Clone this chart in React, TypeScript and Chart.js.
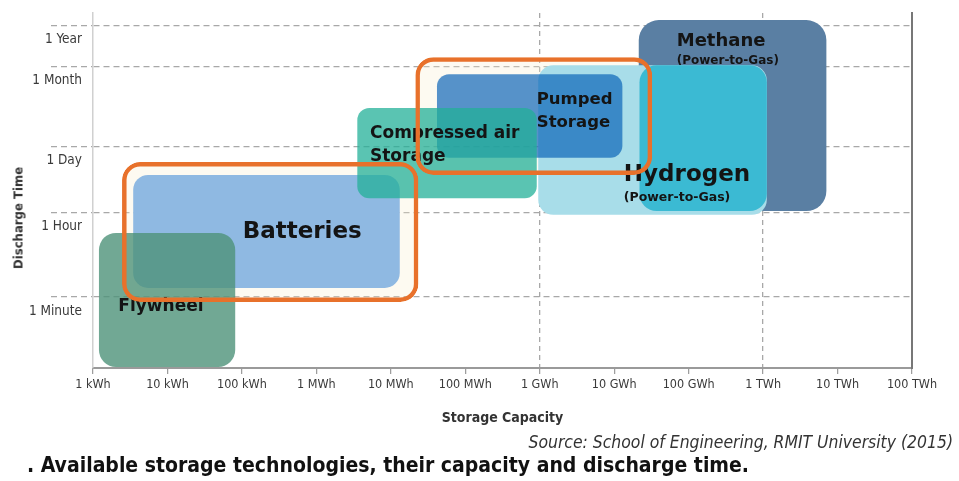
import React, { useEffect, useRef } from 'react';
import { Chart, registerables, DatasetController } from 'chart.js';

Chart.register(...registerables);

// ---------- DATA ----------
// x axis: storage capacity, as log10 of kWh (0 = 1 kWh ... 11 = 100 TWh)
const xTickLabels = ['1 kWh', '10 kWh', '100 kWh', '1 MWh', '10 MWh', '100 MWh', '1 GWh', '10 GWh', '100 GWh', '1 TWh', '10 TWh', '100 TWh'];
const xGridValues = [6, 9];
// y axis: discharge time, on the chart's (log-like) time scale
const yTickLabels = ['1 Minute', '1 Hour', '1 Day', '1 Month', '1 Year'];
const yTickValues = [1.78, 3.56, 4.94, 6.64, 7.5];

// technologies, listed bottom layer first
const techNames = ['Methane', 'Hydrogen', 'Hydrogen (core)', 'Pumped Storage', 'Batteries', 'Compressed air Storage', 'Flywheel'];
const capLow = [7.33, 5.98, 7.34, 4.62, 0.54, 3.55, 0.08];
const capHigh = [9.85, 9.05, 9.05, 7.11, 4.12, 5.96, 1.91];
const timeLow = [3.59, 3.51, 3.59, 4.71, 1.97, 3.86, 0.306];
const timeHigh = [7.61, 6.66, 6.66, 6.47, 4.35, 5.76, 3.13];

// highlighted (orange) groups
const highlightNames = ['Batteries', 'Pumped Storage'];
const highlightCapLow = [0.39, 4.33];
const highlightCapHigh = [4.37, 7.51];
const highlightTimeLow = [1.675, 4.35];
const highlightTimeHigh = [4.62, 6.83];

// ---------- STYLE ----------
const techColors = ['#5a7fa3', '#a8dde9', '#3bbad3', 'rgba(4,95,182,0.67)', '#8fb9e2', 'rgba(35,176,152,0.75)', 'rgba(78,146,121,0.8)'];
const techRadii = [20, 15, 17, 12, 15, 12, 17];
const ORANGE = '#e8712b';
const CREAM = 'rgba(248,236,205,0.28)';
const NARROW = '"Liberation Sans Narrow", "DejaVu Sans Condensed", "Roboto Condensed", sans-serif';
const HEAVY = '"DejaVu Sans", "Liberation Sans", sans-serif';

// label anchors (in axis units) for each technology
const techLabels: Record<string, { text: string; x: number; y: number; size: number; align?: string }[]> = {
  'Methane': [
    { text: 'Methane', x: 7.84, y: 7.17, size: 18 },
    { text: '(Power-to-Gas)', x: 7.84, y: 6.75, size: 12 },
  ],
  'Hydrogen (core)': [
    { text: 'Hydrogen', x: 7.13, y: 4.35, size: 23 },
    { text: '(Power-to-Gas)', x: 7.13, y: 3.86, size: 12.5 },
  ],
  'Pumped Storage': [
    { text: 'Pumped', x: 5.96, y: 5.93, size: 16.5 },
    { text: 'Storage', x: 5.96, y: 5.44, size: 16.5 },
  ],
  'Batteries': [{ text: 'Batteries', x: 2.81, y: 3.15, size: 23, align: 'center' }],
  'Compressed air Storage': [
    { text: 'Compressed air', x: 3.72, y: 5.23, size: 17 },
    { text: 'Storage', x: 3.72, y: 4.73, size: 17 },
  ],
  'Flywheel': [{ text: 'Flywheel', x: 0.34, y: 1.57, size: 17 }],
};

// ---------- rounded box controller (uses Chart.js BarElement) ----------
class RoundBoxController extends (DatasetController as any) {
  static id = 'roundBox';
  static defaults = { datasetElementType: false, dataElementType: 'bar' };
  static overrides = {};

  update(mode: any) {
    const meta = this._cachedMeta;
    this.updateElements(meta.data, 0, meta.data.length, mode);
  }

  updateElements(elements: any[], start: number, count: number, mode: any) {
    const meta = this._cachedMeta;
    const xScale = meta.xScale;
    const yScale = meta.yScale;
    const raw = this.getDataset().data;
    for (let i = start; i < start + count; i++) {
      const d = raw[i];
      const left = xScale.getPixelForValue(d.x0);
      const right = xScale.getPixelForValue(d.x1);
      const top = yScale.getPixelForValue(d.y1);
      const bottom = yScale.getPixelForValue(d.y0);
      Object.assign(elements[i], {
        x: (left + right) / 2,
        width: Math.abs(right - left),
        y: top,
        base: bottom,
        height: Math.abs(bottom - top),
        horizontal: false,
        enableBorderRadius: true,
        inflateAmount: 0,
        borderSkipped: { top: false, left: false, bottom: false, right: false },
        options: this.resolveDataElementOptions(i, mode),
      });
    }
  }
}
Chart.register(RoundBoxController as any);

const boxLabelPlugin = {
  id: 'boxLabels',
  afterDatasetDraw(chart: any, args: any) {
    const ds = chart.data.datasets[args.index];
    const lines = techLabels[ds.label];
    if (!lines) return;
    const ctx = chart.ctx;
    const xs = chart.scales.x;
    const ys = chart.scales.y;
    ctx.save();
    ctx.fillStyle = '#141414';
    ctx.textBaseline = 'middle';
    for (const l of lines) {
      ctx.font = `bold ${l.size}px ${HEAVY}`;
      ctx.textAlign = l.align || 'left';
      ctx.fillText(l.text, xs.getPixelForValue(l.x), ys.getPixelForValue(l.y));
    }
    ctx.restore();
  },
};

export default function App() {
  const canvasRef = useRef<HTMLCanvasElement | null>(null);

  useEffect(() => {
    const canvas = canvasRef.current;
    if (!canvas) return;

    const highlightData = highlightNames.map((_, i) => ({
      x0: highlightCapLow[i], x1: highlightCapHigh[i], y0: highlightTimeLow[i], y1: highlightTimeHigh[i],
    }));

    const datasets: any[] = [
      {
        label: 'highlight-fill',
        data: highlightData,
        backgroundColor: CREAM,
        borderColor: 'rgba(0,0,0,0)',
        borderWidth: 0,
        borderRadius: 18,
        order: 30,
      },
      ...techNames.map((name, i) => ({
        label: name,
        data: [{ x0: capLow[i], x1: capHigh[i], y0: timeLow[i], y1: timeHigh[i] }],
        backgroundColor: techColors[i],
        borderColor: 'rgba(0,0,0,0)',
        borderWidth: 0,
        borderRadius: techRadii[i],
        order: 20 - i,
      })),
      {
        label: 'highlight-outline',
        data: highlightData,
        backgroundColor: 'rgba(0,0,0,0)',
        borderColor: ORANGE,
        borderWidth: 4.5,
        borderRadius: 18,
        order: 0,
      },
    ];

    const chart = new Chart(canvas, {
      type: 'roundBox' as any,
      data: { datasets },
      plugins: [boxLabelPlugin],
      options: {
        animation: false,
        responsive: false,
        events: [],
        parsing: { xAxisKey: 'x0', yAxisKey: 'y0' } as any,
        layout: { padding: { top: 13, left: 0, right: 0, bottom: 0 } },
        plugins: {
          legend: { display: false },
          tooltip: { enabled: false },
          title: { display: false },
        },
        scales: {
          x: {
            type: 'linear',
            position: 'bottom',
            min: 0,
            max: 11,
            afterFit: (s: any) => { s.height = 113; },
            ticks: {
              stepSize: 1,
              autoSkip: false,
              maxRotation: 0,
              padding: 3,
              color: '#3a3a3a',
              font: { family: NARROW, size: 12.5 },
              callback: (v: any) => xTickLabels[Math.round(Number(v))],
            },
            grid: {
              color: (ctx: any) => (ctx.tick && xGridValues.includes(ctx.tick.value) ? '#a8a8a8' : 'rgba(0,0,0,0)'),
              lineWidth: 1.3,
              tickLength: 6,
              tickColor: '#9a9a9a',
              tickBorderDash: [],
              tickWidth: 1.2,
            },
            border: { color: '#9a9a9a', width: 2, dash: [5, 4] },
            title: {
              display: true,
              text: 'Storage Capacity',
              color: '#333',
              font: { family: NARROW, size: 14, weight: 'bold' },
              padding: { top: 0, bottom: 54 },
            },
          },
          y: {
            type: 'linear',
            position: 'left',
            min: 0.285,
            max: 7.76,
            afterFit: (s: any) => { s.width = 93; },
            afterBuildTicks: (s: any) => { s.ticks = yTickValues.map((v) => ({ value: v })); },
            ticks: {
              autoSkip: false,
              padding: -31,
              labelOffset: 14,
              color: '#3a3a3a',
              font: { family: NARROW, size: 13.5 },
              callback: (_v: any, i: number) => yTickLabels[i],
            },
            grid: {
              color: '#a8a8a8',
              lineWidth: 1.3,
              tickLength: 42,
              tickBorderDash: [6, 4],
              tickColor: '#a8a8a8',
            },
            border: { color: '#d0d0d0', width: 1.5, dash: [6, 4] },
          },
          y2: {
            type: 'linear',
            position: 'right',
            axis: 'y',
            afterFit: (s: any) => { s.width = 47; },
            ticks: { display: false },
            grid: { display: false },
            border: { color: '#777', width: 2 },
          },
        } as any,
      },
    });

    return () => chart.destroy();
  }, []);

  return (
    <div style={{ position: 'fixed', left: 0, top: 0, width: 959, height: 481, background: '#fff', overflow: 'hidden' }}>
      <canvas ref={canvasRef} width={959} height={481} style={{ position: 'absolute', left: 0, top: 0, width: 959, height: 481, display: 'block' }} />
      <div
        style={{
          position: 'absolute', left: 18, top: 218, transform: 'translate(-50%, -50%) rotate(-90deg)',
          whiteSpace: 'nowrap', fontFamily: NARROW, fontWeight: 'bold', fontSize: 13, color: '#333', lineHeight: 1,
        }}
      >
        Discharge Time
      </div>
      <div
        style={{
          position: 'absolute', right: 6, top: 434, whiteSpace: 'nowrap', fontFamily: NARROW,
          fontStyle: 'italic', fontSize: 17.4, color: '#333', lineHeight: 1,
        }}
      >
        Source: School of Engineering, RMIT University (2015)
      </div>
      <div
        style={{
          position: 'absolute', left: 27, top: 455, whiteSpace: 'nowrap', fontFamily: NARROW,
          fontWeight: 'bold', fontSize: 21, color: '#111', lineHeight: 1,
        }}
      >
        . Available storage technologies, their capacity and discharge time.
      </div>
    </div>
  );
}
